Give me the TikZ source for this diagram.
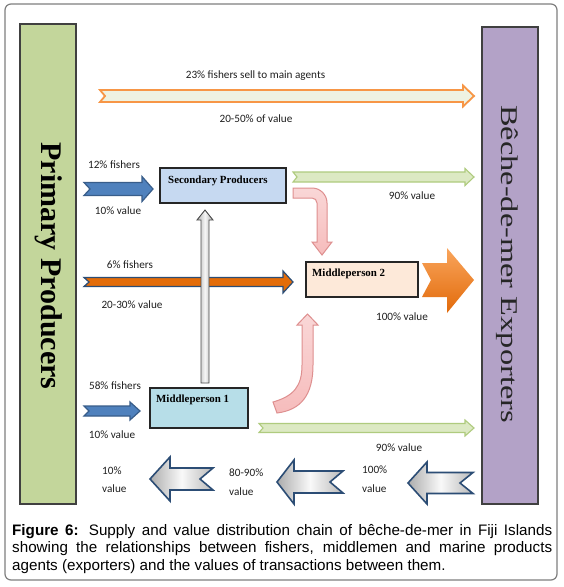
\documentclass[tikz,border=0pt]{standalone}
\usepackage{graphicx}
\usepackage{fontspec}
\setmainfont{Liberation Serif}
\newfontfamily\cali{Carlito}
\newfontfamily\arialf{Liberation Sans}
\newfontfamily\tnr{Liberation Serif}
\definecolor{primgreen}{HTML}{C3D69B}
\definecolor{exppurple}{HTML}{B3A2C7}
\definecolor{secblue}{HTML}{C6D9F1}
\definecolor{mpone}{HTML}{B7DEE8}
\definecolor{mptwo}{HTML}{FDE9D9}
\definecolor{arrblue}{HTML}{4F81BD}
\definecolor{arrbluedark}{HTML}{385D8A}
\definecolor{arrbrown}{HTML}{E36C09}
\definecolor{navyline}{HTML}{2C4D75}
\definecolor{orangeline}{HTML}{F79646}
\definecolor{palefill}{HTML}{EEF2E2}
\definecolor{greenfill}{HTML}{DCE9C3}
\definecolor{greenline}{HTML}{AFCB7E}
\definecolor{pinkfill}{HTML}{F6BCBC}
\definecolor{pinkline}{HTML}{DE8F8F}
\definecolor{orangetop}{HTML}{F9A55C}
\definecolor{orangebot}{HTML}{E26A0A}
\definecolor{framegray}{HTML}{7F7F7F}
\newcommand{\RArrow}[8]{%
  \path[#1] (#2,#4-#5) -- (#3-#7,#4-#5) -- (#3-#7,#4-#6) -- (#3,#4) -- (#3-#7,#4+#6) -- (#3-#7,#4+#5) -- (#2,#4+#5) -- (#2+#8,#4) -- cycle;}
\newcommand{\LArrow}[8]{%
  \path[#1] (#2,#4) -- (#2+#7,#4-#6) -- (#2+#7,#4-#5) -- (#3,#4-#5) -- (#3-#8,#4) -- (#3,#4+#5) -- (#2+#7,#4+#5) -- (#2+#7,#4+#6) -- cycle;}
\begin{document}
\begin{tikzpicture}[x=1pt,y=-1pt,
  bar/.style={draw=black!75, line width=1.5pt, inner sep=0},
  box/.style={draw=black!85, line width=1.2pt, inner sep=0},
  boxlbl/.style={font=\tnr\bfseries\fontsize{10.9}{12}\selectfont, inner sep=0, anchor=west},
  lbl/.style={font=\cali\fontsize{11.2}{13}\selectfont, inner sep=0, text=black!88},
  bluearrow/.style={fill=arrblue, draw=arrbluedark, line width=1.2pt, line join=miter},
  brownarrow/.style={fill=arrbrown, draw=navyline, line width=1.2pt},
  greenarrow/.style={fill=greenfill, draw=greenline, line width=1.1pt},
  greyarrow/.style={left color=gray!65, right color=gray!55, middle color=gray!5, draw=navyline, line width=1.6pt},
  pinkarrow/.style={top color=pinkfill!60, bottom color=pinkfill, draw=pinkline, line width=1pt},
]
\useasboundingbox (0,0) rectangle (564,587);
\fill[white] (0,0) rectangle (564,587);
\draw[framegray, line width=1.2pt, rounded corners=6pt] (5,4) rectangle (557,580);

% side bars
\node[bar, fill=primgreen, minimum width=56pt, minimum height=480pt] (prim) at (48,264) {};
\node[rotate=-90, inner sep=0, font=\tnr\bfseries\fontsize{30}{30}\selectfont] (primtxt) at (49,266) {Primary Producers};
\node[bar, fill=exppurple, minimum width=56pt, minimum height=477pt] (exp) at (510,265.5) {};
\node[rotate=-90, inner sep=0, text=black!85, font=\tnr\fontsize{24}{24}\selectfont] (exptxt) at (507.6,264) {\scalebox{1.35}[1]{Bêche-de-mer Exporters}};

% top orange arrow
\RArrow{draw=orangeline, line width=1.8pt, fill=palefill}{100}{474}{96}{6}{10.5}{11}{5}
\node[lbl] (t1) at (255.5,76) {23\% fishers sell to main agents};
\node[lbl] (t2) at (256,119) {20-50\% of value};

% secondary producers
\node[box, fill=secblue, minimum width=126pt, minimum height=35pt] (sec) at (223,185.5) {};
\node[boxlbl] (seclbl) at (168,180.5) {Secondary Producers};
\RArrow{bluearrow}{84}{153}{189}{6.5}{12.5}{11}{6}
\node[lbl] (t3) at (114,164.5) {12\% fishers};
\node[lbl] (t4) at (118,211) {10\% value};
\RArrow{greenarrow}{293}{474}{177}{5}{8.5}{9}{4}
\node[lbl] (t5) at (412,196) {90\% value};

% pink bent arrow sec -> mp2
\path[pinkarrow] (293,188) -- (312,188) .. controls (320.3,188) and (327,194.7) .. (327,203) -- (327,242) -- (332,242) -- (322,255) -- (312,242) -- (317,242) -- (317,203) .. controls (317,200.2) and (314.8,198) .. (312,198) -- (293,198) -- cycle;

% 6% arrow
\RArrow{brownarrow}{84}{293}{282}{4.5}{11}{10}{5}
\node[lbl] (t6) at (130,264.5) {6\% fishers};
\node[lbl] (t7) at (132,305) {20-30\% value};

% grey vertical arrow mp1 -> sec
\path[left color=gray!60, right color=gray!65, middle color=gray!8, draw=black!70, line width=0.9pt] (205,210) -- (213,220) -- (209,220) -- (209,383) -- (201,383) -- (201,220) -- (197,220) -- cycle;

% middleperson 2
\node[box, fill=mptwo, minimum width=112pt, minimum height=35pt] (mp2) at (362,279.5) {};
\node[boxlbl] (mp2lbl) at (312,273.5) {Middleperson 2};
\path[top color=orangetop, bottom color=orangebot] (422,263) -- (447,263) -- (447,248) -- (474,280) -- (447,313) -- (447,297) -- (422,297) -- (431,280) -- cycle;
\node[lbl] (t8) at (402,317) {100\% value};

% pink J arrow mp1 -> mp2
\path[pinkarrow] (273,402) .. controls (294,396) and (302,386) .. (302,365) -- (302,325) -- (297,325) -- (307.5,314) -- (318,325) -- (313,325) -- (313,365) .. controls (313,395) and (301,410) .. (277,413) -- cycle;

% middleperson 1
\node[box, fill=mpone, minimum width=98pt, minimum height=40pt] (mp1) at (199,408) {};
\node[boxlbl] (mp1lbl) at (156,399.5) {Middleperson 1};
\RArrow{bluearrow}{84}{140}{411}{5}{9}{10}{5}
\node[lbl] (t9) at (115,386) {58\% fishers};
\node[lbl] (t10) at (112,434.5) {10\% value};
\RArrow{greenarrow}{259}{474}{428}{4.5}{8}{9}{4}
\node[lbl] (t11) at (399,448) {90\% value};

% bottom value arrows
\LArrow{greyarrow}{150}{213}{479}{11}{22}{20}{13}
\LArrow{greyarrow}{277}{343}{482}{11}{22}{17}{13}
\LArrow{greyarrow}{408}{473}{483}{10.5}{21}{19}{13}
\node[lbl, anchor=west] (v1a) at (102,471) {10\%};
\node[lbl, anchor=west] (v1b) at (102,488.5) {value};
\node[lbl, anchor=west] (v2a) at (229,473) {80-90\%};
\node[lbl, anchor=west] (v2b) at (229,492) {value};
\node[lbl, anchor=west] (v3a) at (362,470) {100\%};
\node[lbl, anchor=west] (v3b) at (362,488.5) {value};

% caption
\node[anchor=base west, inner sep=0] (cap) at (12,535) {\parbox[t]{540pt}{\arialf\fontsize{15.2}{17.5}\selectfont\tolerance=10000\hbadness=10000\textbf{Figure 6:} Supply and value distribution chain of bêche-de-mer in Fiji Islands\linebreak showing the relationships between fishers, middlemen and marine products\linebreak agents (exporters) and the values of transactions between them.}};
\end{tikzpicture}
\end{document}
